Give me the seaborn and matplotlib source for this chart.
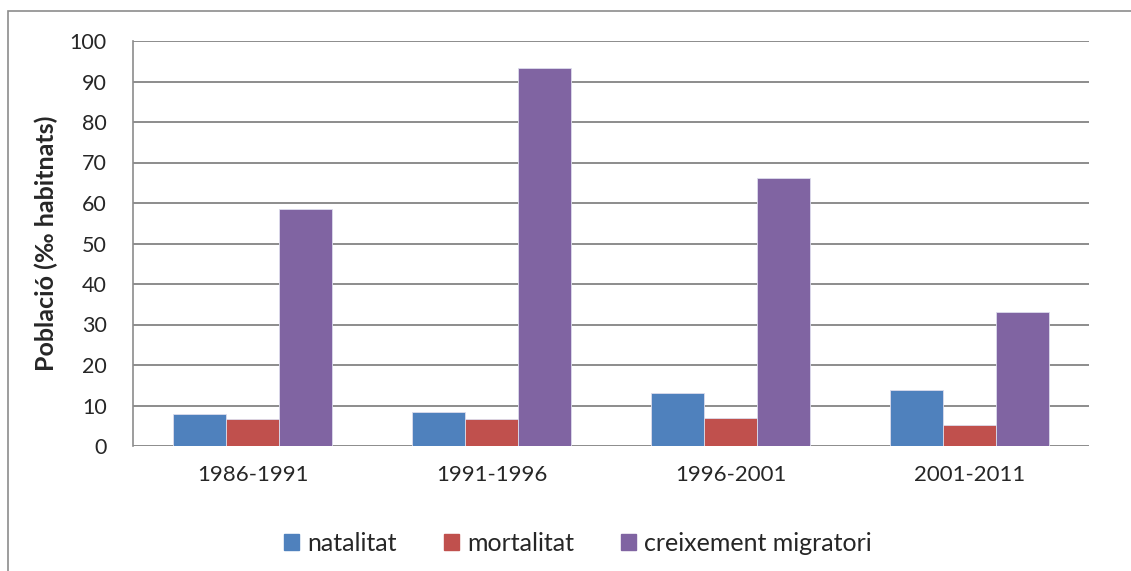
import matplotlib
matplotlib.use("Agg")
import matplotlib.pyplot as plt
import matplotlib.patches as mpatches
import pandas as pd
import seaborn as sns

# dades llegides del gràfic
periodes = ["1986-1991", "1991-1996", "1996-2001", "2001-2011"]
natalitat = [7.9, 8.4, 13.0, 13.8]
mortalitat = [6.6, 6.6, 7.0, 5.2]
migratori = [58.6, 93.3, 66.1, 33.0]
series = ["natalitat", "mortalitat", "creixement migratori"]
colors = ["#4F81BD", "#C0504D", "#8064A2"]

df = pd.DataFrame({
    "periode": periodes * 3,
    "serie": [series[0]] * 4 + [series[1]] * 4 + [series[2]] * 4,
    "valor": natalitat + mortalitat + migratori,
})

sns.set_style("white")
plt.rcParams["font.family"] = ["Lato", "DejaVu Sans"]

fig = plt.figure(figsize=(11.31, 5.71), dpi=100)
ax = fig.add_axes([133 / 1131, 1 - 446 / 571, (1089 - 133) / 1131, (446 - 41) / 571])

sns.barplot(data=df, x="periode", y="valor", hue="serie", hue_order=series,
            palette=colors, saturation=1, width=0.665, ax=ax, legend=False,
            zorder=3, edgecolor="#dcdcec", linewidth=0.6)

ax.set_ylim(0, 100)
ax.set_yticks(range(0, 101, 10))
ax.set_xlim(-0.5, 3.5)
ax.grid(axis="y", color="#8c8c8c", linewidth=1.4, zorder=0)
ax.set_axisbelow(True)
for s in ["top", "right", "bottom"]:
    ax.spines[s].set_visible(False)
ax.spines["left"].set_color("#8c8c8c")
ax.spines["left"].set_linewidth(1.2)
ax.tick_params(axis="y", length=6, color="#8c8c8c", width=1.2, labelsize=15.5, pad=13)
ax.tick_params(axis="x", length=0, labelsize=16, pad=14)
ax.set_xlabel("")
ax.set_ylabel("Població (‰ habitnats)", fontsize=18, fontweight="bold", labelpad=8)

# marc exterior del gràfic
fig.patches.append(mpatches.Rectangle((8 / 1131, -0.1), 1.2, 1.1 - 11 / 571,
                                      transform=fig.transFigure, fill=False,
                                      edgecolor="#8c8c8c", linewidth=1.2))

handles = [mpatches.Patch(color=c, label=s) for c, s in zip(colors, series)]
fig.legend(handles=handles, loc="center", bbox_to_anchor=(0.511, 0.049), ncol=3,
           frameon=False, fontsize=18, handlelength=0.6, handleheight=0.6,
           columnspacing=1.9, handletextpad=0.32)

fig.savefig("out.png", dpi=100)
